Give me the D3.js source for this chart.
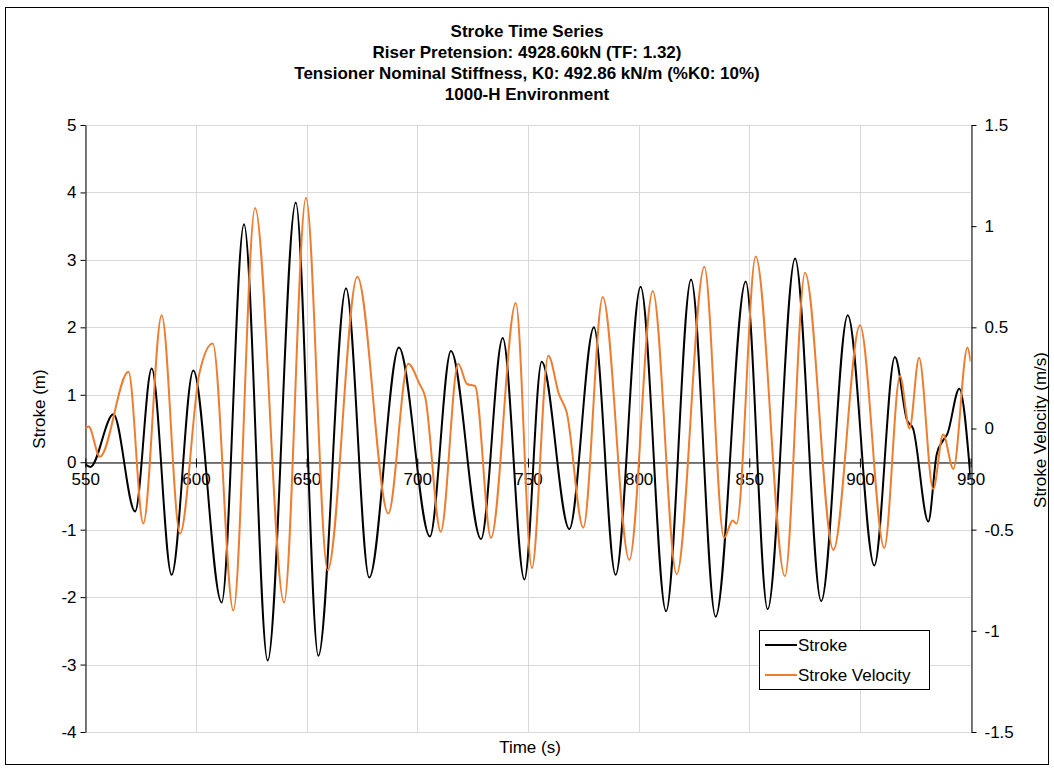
<!DOCTYPE html>
<html><head><meta charset="utf-8">
<script src="https://cdn.jsdelivr.net/npm/d3@7"></script>
<style>
html,body{margin:0;padding:0;background:#fff;}
svg{display:block;font-family:"Liberation Sans",Arial,sans-serif;}
</style></head><body>
<svg id="chart" width="1054" height="771"></svg>
<script>
// Chart text
const titleLines = [
  "Stroke Time Series",
  "Riser Pretension: 4928.60kN (TF: 1.32)",
  "Tensioner Nominal Stiffness, K0: 492.86 kN/m (%K0: 10%)",
  "1000-H Environment"
];
const seriesNames = ["Stroke", "Stroke Velocity"];

// Stroke (m) – sampled at turning points and shoulders
const strokeTime = [550, 552.3, 562.7, 572.5, 580, 589, 598.8, 611.6, 621.7, 632.4, 645.1, 655.3,
  667.8, 678.3, 691.7, 705.7, 715.2, 728.8, 738.6, 748.4, 756.2, 768.7, 779.8, 789.6, 800.9,
  812.4, 823.7, 834.8, 848.4, 858.3, 870.7, 882.5, 894.5, 906.5, 915.8, 921.3, 924, 930.9,
  934.7, 937.5, 939.5, 944.9, 950];
const strokeValue = [-0.03, -0.07, 0.71, -0.73, 1.39, -1.67, 1.36, -2.08, 3.53, -2.94, 3.85, -2.87,
  2.58, -1.71, 1.70, -1.10, 1.65, -1.14, 1.84, -1.74, 1.49, -0.99, 2.00, -1.67, 2.60,
  -2.21, 2.71, -2.29, 2.68, -2.18, 3.02, -2.06, 2.18, -1.53, 1.56, 0.62, 0.50, -0.88,
  0.12, 0.32, 0.42, 1.09, -0.25];

// Stroke velocity (m/s)
const velocityTime = [550, 551.5, 556.6, 569.5, 576.2, 584.5, 592.8, 601.5, 607.6, 616.9, 626.7,
  639.8, 649.7, 659.5, 672.9, 686.9, 695.9, 701, 703.5, 710.6, 718.5, 722.5, 726.1, 733.3,
  744.5, 751.8, 759.2, 764, 767.5, 775, 783.8, 795.8, 806.4, 817.2, 829.7, 838.6, 842.5,
  844.3, 852.9, 866.1, 875.2, 888, 900, 911, 918.1, 922.4, 926.7, 933.1, 937.6, 942.2,
  948.6, 950];
const velocityValue = [0.0, 0.01, -0.14, 0.28, -0.47, 0.56, -0.52, 0.27, 0.42, -0.90, 1.09,
  -0.86, 1.14, -0.70, 0.75, -0.42, 0.32, 0.22, 0.16, -0.51, 0.32, 0.22, 0.21, -0.54,
  0.62, -0.69, 0.36, 0.17, 0.08, -0.49, 0.65, -0.65, 0.68, -0.72, 0.80, -0.54, -0.455,
  -0.47, 0.85, -0.73, 0.77, -0.60, 0.51, -0.59, 0.26, 0.0, 0.35, -0.30, -0.03, -0.20,
  0.40, 0.33];

// Axis ticks
const timeTicks = [550, 600, 650, 700, 750, 800, 850, 900, 950];
const strokeTicks = [-4, -3, -2, -1, 0, 1, 2, 3, 4, 5];
const velocityTicks = [-1.5, -1, -0.5, 0, 0.5, 1, 1.5];

const colors = { stroke: "#000000", velocity: "#ED7D31", grid: "#d9d9d9", text: "#000" };

const svg = d3.select("#chart");
const plot = { left: 85.3, right: 970.6, top: 125, bottom: 732 };

// Outer chart frame
svg.append("rect")
  .attr("x", 5.5).attr("y", 7.5).attr("width", 1043).attr("height", 757)
  .attr("fill", "#fff").attr("stroke", "#000").attr("stroke-width", 1);

const x = d3.scaleLinear().domain([550, 950]).range([plot.left, plot.right]);
const yS = d3.scaleLinear().domain([-4, 5]).range([plot.bottom, plot.top]);
const yV = d3.scaleLinear().domain([-1.5, 1.5]).range([plot.bottom, plot.top]);

// Title
const title = svg.append("text")
  .attr("text-anchor", "middle")
  .attr("font-weight", "bold")
  .attr("font-size", 17)
  .attr("fill", colors.text);
titleLines.forEach((t, i) => {
  title.append("tspan").attr("x", 527).attr("y", 37 + i * 21).text(t);
});

// Gridlines
const grid = svg.append("g").attr("stroke", colors.grid).attr("stroke-width", 1);
grid.selectAll("line.h").data(strokeTicks).join("line")
  .attr("x1", plot.left).attr("x2", plot.right)
  .attr("y1", d => Math.round(yS(d)) + 0.5).attr("y2", d => Math.round(yS(d)) + 0.5);
grid.selectAll("line.v").data(timeTicks).join("line")
  .attr("y1", plot.top).attr("y2", plot.bottom)
  .attr("x1", d => Math.round(x(d)) + 0.5).attr("x2", d => Math.round(x(d)) + 0.5);

// Left axis
const fmt = d => String(d);
const axL = svg.append("g").attr("transform", `translate(${Math.round(plot.left) + 0.5},0)`)
  .call(d3.axisLeft(yS).tickValues(strokeTicks).tickFormat(fmt).tickSize(5).tickPadding(4).tickSizeOuter(0));
// Right axis
const axR = svg.append("g").attr("transform", `translate(${Math.round(plot.right) + 0.5},0)`)
  .call(d3.axisRight(yV).tickValues(velocityTicks).tickFormat(fmt).tickSize(5).tickPadding(8).tickSizeOuter(0));
// Time axis along stroke = 0
const axX = svg.append("g").attr("transform", `translate(0,${Math.round(yS(0)) + 0.5})`)
  .call(d3.axisBottom(x).tickValues(timeTicks).tickFormat(fmt).tickSize(5).tickPadding(5).tickSizeOuter(0));

[axL, axR, axX].forEach(a => {
  a.selectAll("text").attr("font-size", 17).attr("font-family", "Liberation Sans, Arial, sans-serif").attr("fill", colors.text);
  a.selectAll("path,line").attr("stroke", "#000");
});
axX.selectAll(".tick line").attr("y1", -4);

// Series
svg.append("clipPath").attr("id", "plotClip").append("rect")
  .attr("x", plot.left).attr("y", plot.top).attr("width", plot.right - plot.left).attr("height", plot.bottom - plot.top);

const strokeLine = d3.line().x(d => x(d[0])).y(d => yS(d[1])).curve(d3.curveMonotoneX);
const velocityLine = d3.line().x(d => x(d[0])).y(d => yV(d[1])).curve(d3.curveMonotoneX);

const series = svg.append("g").attr("clip-path", "url(#plotClip)");
series.append("path")
  .datum(d3.zip(strokeTime, strokeValue))
  .attr("d", strokeLine).attr("fill", "none")
  .attr("stroke", colors.stroke).attr("stroke-width", 2).attr("stroke-linejoin", "round");
series.append("path")
  .datum(d3.zip(velocityTime, velocityValue))
  .attr("d", velocityLine).attr("fill", "none")
  .attr("stroke", colors.velocity).attr("stroke-width", 2).attr("stroke-linejoin", "round");

// Axis titles
svg.append("text").attr("transform", `translate(45,409) rotate(-90)`)
  .attr("text-anchor", "middle").attr("font-size", 17).text("Stroke (m)");
svg.append("text").attr("transform", `translate(1046,430) rotate(-90)`)
  .attr("text-anchor", "middle").attr("font-size", 17).text("Stroke Velocity (m/s)");
svg.append("text").attr("x", 530).attr("y", 753)
  .attr("text-anchor", "middle").attr("font-size", 17).text("Time (s)");

// Legend
const lg = svg.append("g");
lg.append("rect").attr("x", 759.5).attr("y", 630.5).attr("width", 170).attr("height", 59)
  .attr("fill", "#fff").attr("stroke", "#000").attr("stroke-width", 1);
[[seriesNames[0], colors.stroke], [seriesNames[1], colors.velocity]].forEach(([name, c], i) => {
  const yy = 645 + i * 30;
  lg.append("line").attr("x1", 765).attr("x2", 797).attr("y1", yy).attr("y2", yy)
    .attr("stroke", c).attr("stroke-width", 2);
  lg.append("text").attr("x", 798).attr("y", yy).attr("dy", "0.35em")
    .attr("font-size", 17).text(name);
});
</script>
</body></html>
